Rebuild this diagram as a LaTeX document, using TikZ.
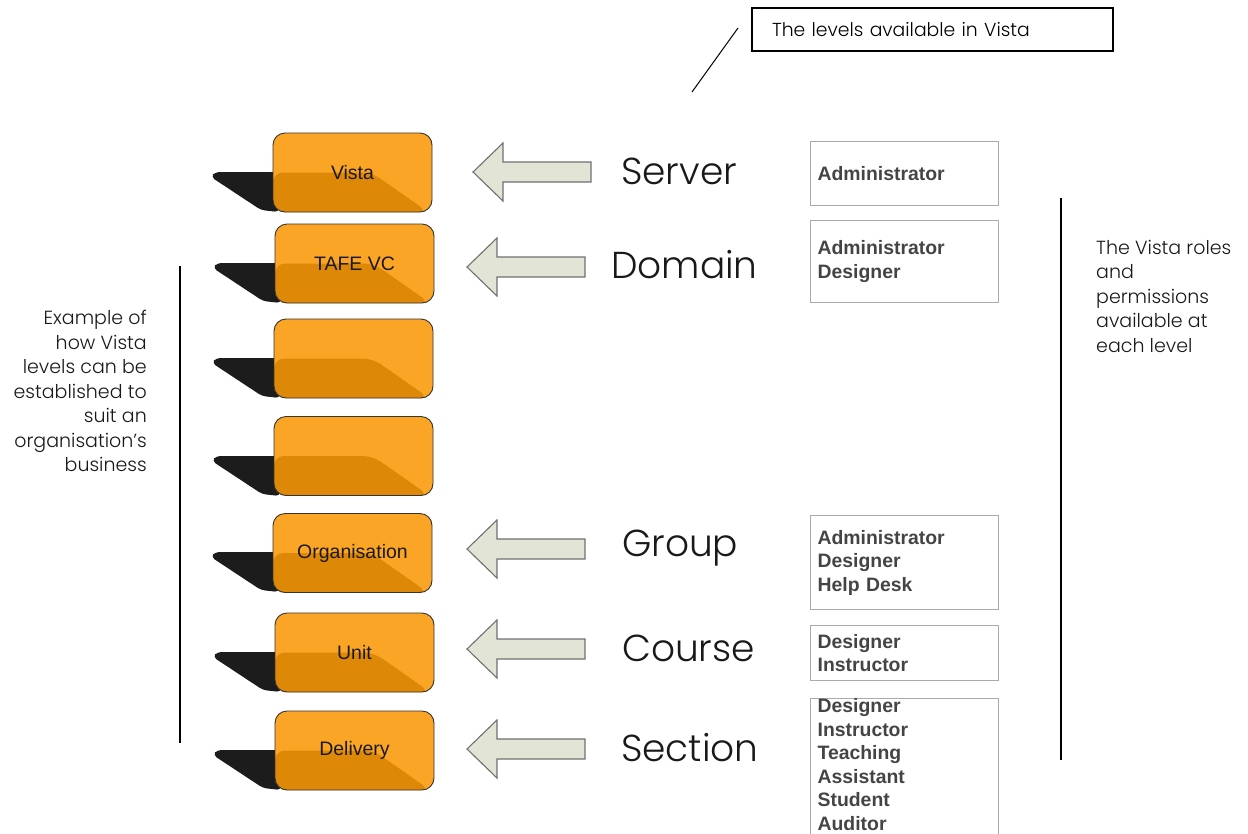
\documentclass[tikz,border=0pt]{standalone}
\usepackage{fontspec}
\setmainfont{Poppins Light}
\newfontfamily\arial{Liberation Sans}
\usetikzlibrary{calc}
\definecolor{lightor}{HTML}{FBA527}
\definecolor{darkor}{HTML}{DE8808}
\definecolor{shad}{HTML}{1C1C1C}
\definecolor{arrfill}{HTML}{E2E4D5}
\definecolor{arrline}{HTML}{707070}
\definecolor{roletext}{HTML}{444444}
\definecolor{roleline}{HTML}{ABABAB}
\tikzset{
  lvl/.style={draw=black!80, line width=0.9pt, rounded corners=12pt,
    minimum width=159pt, minimum height=79pt, inner sep=0pt, fill=lightor,
    font=\arial\fontsize{19.5}{22}\selectfont, text=black!90,
    path picture={\fill[darkor, rounded corners=10pt]
      (path picture bounding box.west) --
      ($(path picture bounding box.west)!0.62!(path picture bounding box.east)$) --
      ([xshift=-4pt]path picture bounding box.south east) --
      ([yshift=-10pt]path picture bounding box.south west) -- cycle;}},
  levelword/.style={font=\fontsize{37.5}{42}\selectfont, text=black!90, anchor=west, inner sep=0pt},
  rolebox/.style={draw=roleline, line width=1.2pt, minimum width=188pt, anchor=north west,
    inner xsep=7pt, inner ysep=0pt, text width=174pt, align=left,
    font=\arial\bfseries\fontsize{19.4}{23.5}\selectfont, text=roletext},
  note/.style={font=\fontsize{19}{24.5}\selectfont, text=black!90, inner sep=0pt},
  guide/.style={draw=black, line width=1.4pt}
}
% shadow behind a level box: #1 = left x, #2 = top y
\newcommand{\lvlshadow}[2]{%
  \fill[shad, rounded corners=4pt] (#1+6,#2+39) -- (#1-58,#2+39) -- (#1-62,#2+44)
     -- (#1-12,#2+77) -- (#1+6,#2+79) -- cycle;}
% arrow pointing left: #1 = tip x, #2 = centre y, #3 = name
\newcommand{\lvlarrow}[3]{%
  \coordinate (#3) at (#1,#2);
  \filldraw[fill=arrfill, draw=arrline, line width=1.1pt, line join=miter]
    (#3) -- ++(30,-29) -- ++(0,19) -- ++(88,0) -- ++(0,20) -- ++(-88,0) -- ++(0,19) -- cycle;}
\begin{document}
\begin{tikzpicture}[x=1pt,y=-1pt]
\useasboundingbox (0,0) rectangle (1248,833);

% title box
\node[draw=black, line width=1.2pt, minimum width=361pt, minimum height=43pt,
  inner xsep=20pt, text width=321pt, align=left, font=\fontsize{18.8}{22}\selectfont]
  (title) at (932.5,29.5) {The levels available in Vista};
\coordinate (p1) at (738,28);
\coordinate (p2) at (692,92);
\draw[line width=1pt] (p1) -- (p2);

% level boxes
\lvlshadow{273}{133}
\node[lvl] (vista) at (352.5,172.5) {Vista};
\lvlshadow{275}{224}
\node[lvl] (tafe) at (354.5,263.5) {TAFE VC};
\lvlshadow{274}{319}
\node[lvl] (blank1) at (353.5,358.5) {};
\lvlshadow{274}{417}
\node[lvl] (blank2) at (353.5,456) {};
\lvlshadow{273}{513}
\node[lvl] (org) at (352.5,553) {Organisation};
\lvlshadow{275}{613}
\node[lvl] (unit) at (354.5,652.5) {Unit};
\lvlshadow{275}{711}
\node[lvl] (deliv) at (354.5,750.5) {Delivery};

% arrows
\lvlarrow{473}{172}{aServer}
\lvlarrow{467}{267}{aDomain}
\lvlarrow{467}{549}{aGroup}
\lvlarrow{467}{649}{aCourse}
\lvlarrow{467}{749}{aSection}

% level words
\node[levelword] (wServer) at (621,171) {Server};
\node[levelword] (wDomain) at (611,265) {Domain};
\node[levelword] (wGroup) at (622,548) {Group};
\node[levelword] (wCourse) at (622,648) {Course};
\node[levelword] (wSection) at (621,748) {Section};

% role boxes
\node[rolebox, minimum height=64pt] (r1) at (810,141) {Administrator};
\node[rolebox, minimum height=82pt] (r2) at (810,220) {Administrator\\Designer};
\node[rolebox, minimum height=94pt] (r3) at (810,515) {Administrator\\Designer\\Help Desk};
\node[rolebox, minimum height=55pt] (r4) at (810,625) {Designer\\Instructor};
\node[rolebox, minimum height=141pt] (r5) at (810,698) {Designer\\Instructor\\Teaching\\Assistant\\Student\\Auditor\rule[-12pt]{0pt}{1pt}};

% bracket lines
\coordinate (l1) at (180,266);
\coordinate (l2) at (180,743);
\draw[guide] (l1) -- (l2);
\coordinate (r1a) at (1061,198);
\coordinate (r1b) at (1061,760);
\draw[guide] (r1a) -- (r1b);

% side notes
\node[note, anchor=north east, align=right] (leftnote) at (147,310)
  {Example of\\how Vista\\levels can be\\established to\\suit an\\organisation’s\\business};
\node[note, anchor=north west, align=left] (rightnote) at (1096,240)
  {The Vista roles\\and\\permissions\\available at\\each level};
\end{tikzpicture}
\end{document}
